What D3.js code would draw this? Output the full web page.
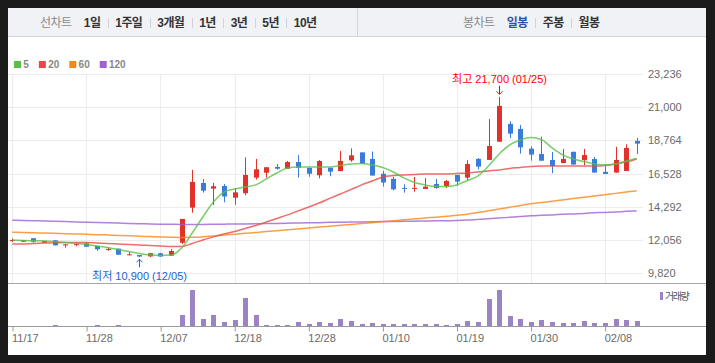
<!DOCTYPE html>
<html>
<head>
<meta charset="utf-8">
<script src="https://cdn.jsdelivr.net/npm/d3@7"></script>
<style>
  html, body { margin: 0; padding: 0; background: #1b1b1b; }
  svg { display: block; font-family: Arial, "Liberation Sans", "Noto Sans CJK KR", sans-serif; }
</style>
</head>
<body>
<svg id="chart" width="715" height="363"></svg>
<script>
// trading days (2017-11-17 .. 2018-02-13)
const dates = ['11/17','11/20','11/21','11/22','11/23','11/24','11/27','11/28','11/29','11/30',
  '12/01','12/04','12/05','12/06','12/07','12/08','12/11','12/12','12/13','12/14',
  '12/15','12/18','12/19','12/20','12/21','12/22','12/26','12/27','12/28','01/02',
  '01/03','01/04','01/05','01/08','01/09','01/10','01/11','01/12','01/15','01/16',
  '01/17','01/18','01/19','01/22','01/23','01/24','01/25','01/26','01/29','01/30',
  '01/31','02/01','02/02','02/05','02/06','02/07','02/08','02/09','02/12','02/13'];

const open = [12040,11950,12180,11880,12040,11700,11760,11840,11660,11440,
  11480,11090,11050,10960,11170,11010,11880,14240,15900,15520,
  15700,14910,15210,16260,16590,16980,16860,17310,16920,16420,
  16930,16700,17420,17960,17520,16520,16180,15570,15540,15500,
  15830,15680,16440,16260,17520,17450,18680,19880,19540,18210,
  17850,17450,17240,18000,17440,17510,16650,16600,16710,18730];
const high = [12170,12050,12180,12000,12060,11770,11880,11900,11660,11570,
  11480,11250,11050,11200,11200,11440,13480,16780,16170,15900,
  15830,15560,17620,17520,16960,17180,17380,17780,16920,17440,
  16930,18060,18230,17960,18020,16720,16320,15810,16300,16230,
  16170,16110,16440,17430,17580,20200,21700,20060,19800,18370,
  19020,17990,18190,18000,18190,17650,17140,18330,18500,18940];
const low = [11930,11950,11880,11880,11700,11550,11640,11610,11340,11340,
  11070,11030,10900,10910,10940,11000,11800,13900,15250,14420,
  14600,14440,15080,16130,16260,16790,16860,16260,16320,16210,
  16350,16700,17330,17180,16400,15660,15400,15250,15310,15500,
  15510,15560,15700,16060,16810,17450,18680,18910,17880,17400,
  17400,16560,17240,17140,17080,16600,16510,16600,16700,17840];
const close = [12060,12050,11950,12000,11700,11770,11780,11610,11440,11460,
  11070,11100,10950,11170,10950,11320,13480,15970,15380,15680,
  14990,15270,16440,16820,16960,16860,17310,16920,16520,17380,
  16660,17390,17760,17180,16400,15930,15470,15530,15570,15650,
  15560,16030,15990,17180,17000,18390,21090,19220,18300,17810,
  17400,17040,17520,17140,17780,16600,16510,17450,18260,18550];

// volume (thousand shares)
const volume = [10,10,10,10,65,10,10,10,65,10,
  65,10,10,10,10,10,565,1815,365,565,
  215,315,1415,565,65,65,65,215,115,215,
  165,365,265,115,165,115,115,115,115,115,
  115,65,115,265,215,1365,1815,515,365,215,
  315,215,165,165,265,165,165,365,315,265];

const ma5 = [12060,12030,12010,12000,11960,11890,11830,11760,11660,11560,
  11420,11290,11150,11050,11020,11050,11520,12530,13610,14620,
  15290,15500,15630,15770,16170,16570,16910,16980,16980,16980,
  16980,17080,17180,17210,17110,16940,16640,16240,15930,15770,
  15660,15660,15770,16070,16370,17040,17850,18460,18790,18960,
  18830,18260,17790,17520,17350,17180,17110,17180,17380,17550];
const ma20 = [11790,11790,11830,11860,11870,11890,11890,11890,11860,11830,
  11790,11760,11730,11690,11660,11630,11630,11830,12060,12270,
  12470,12640,12840,13040,13270,13510,13750,14020,14280,14550,
  14860,15160,15460,15770,16030,16300,16400,16440,16470,16510,
  16510,16510,16540,16570,16640,16710,16780,16880,16940,17010,
  17040,17040,17040,17040,17040,17040,17080,17180,17310,17520];
const ma60 = [12580,12570,12550,12530,12510,12490,12470,12450,12420,12400,
  12370,12350,12320,12290,12270,12240,12230,12240,12280,12330,
  12400,12450,12510,12570,12630,12690,12750,12810,12870,12930,
  12990,13050,13110,13170,13230,13290,13360,13420,13480,13540,
  13600,13660,13720,13800,13910,14030,14150,14260,14390,14500,
  14590,14670,14760,14850,14940,15020,15110,15200,15290,15370];
const ma120 = [13390,13380,13360,13340,13320,13300,13280,13260,13240,13220,
  13200,13180,13160,13140,13130,13120,13110,13110,13110,13120,
  13130,13140,13140,13150,13170,13180,13190,13210,13220,13230,
  13250,13260,13270,13280,13290,13300,13310,13320,13330,13340,
  13350,13360,13370,13400,13450,13500,13540,13590,13640,13690,
  13720,13750,13790,13820,13850,13890,13920,13950,13990,14020];

const priceTicks = [9820, 12056, 14292, 16528, 18764, 21000, 23236];
const dateTicks = ['11/17','11/28','12/07','12/18','12/28','01/10','01/19','01/30','02/08'];
const periodTabs = ['1일','1주일','3개월','1년','3년','5년','10년'];
const candleTabs = ['일봉','주봉','월봉'];
const maLabels = ['5','20','60','120'];

const UP = '#e3302a', DOWN = '#3a7cdc';
const maColors = ['#58c046', '#ea4848', '#f7871b', '#a060d2'];
const fmt = d3.format(',');

const svg = d3.select('#chart');

// panel + header
svg.append('rect').attr('x', 8).attr('y', 8).attr('width', 698).attr('height', 347).attr('fill', '#fff');
svg.append('rect').attr('x', 8).attr('y', 8).attr('width', 698).attr('height', 29).attr('fill', '#f1f2f6');
svg.append('line').attr('x1', 8).attr('x2', 706).attr('y1', 36.5).attr('y2', 36.5).attr('stroke', '#d4d5da');
svg.append('line').attr('x1', 357.5).attr('x2', 357.5).attr('y1', 8).attr('y2', 36).attr('stroke', '#d4d5da');

const tabRow = (startX, title, labels, activeIdx) => {
  const g = svg.append('g').style('font-size', '12px').style('letter-spacing', '-0.6px');
  let cx = startX;
  const t = g.append('text').attr('x', cx).attr('y', 27).attr('fill', '#8a8a8a').text(title);
  cx += t.node().getComputedTextLength() + 12.5;
  labels.forEach((l, i) => {
    if (i > 0) {
      g.append('line').attr('x1', Math.round(cx) + 0.5).attr('x2', Math.round(cx) + 0.5)
        .attr('y1', 18).attr('y2', 28).attr('stroke', '#d2d3d8');
      cx += 7.5;
    }
    const tt = g.append('text').attr('x', cx).attr('y', 27)
      .attr('font-weight', 'bold')
      .attr('fill', i === activeIdx ? '#2a53a8' : '#333')
      .text(l);
    cx += tt.node().getComputedTextLength() + 7.5;
  });
};
tabRow(40, '선차트', periodTabs, -1);
tabRow(463, '봉차트', candleTabs, 0);

// legend
const legend = svg.append('g').style('font-size', '10px').attr('font-weight', 'bold');
let lx = 14;
maLabels.forEach((l, i) => {
  legend.append('rect').attr('x', lx).attr('y', 61).attr('width', 7).attr('height', 7).attr('fill', maColors[i]);
  const t = legend.append('text').attr('x', lx + 9.3).attr('y', 67.8).attr('fill', '#888').text(l);
  lx += 9.3 + t.node().getComputedTextLength() + 10;
});

// scales
const x = d3.scalePoint().domain(dates).range([12.3, 636.7]);
const y = d3.scaleLinear().domain([priceTicks[0], priceTicks[priceTicks.length - 1]]).range([273.3, 74]);
const yVol = d3.scaleLinear().domain([0, d3.max(volume)]).range([326.3, 290]);
const px = d => Math.round(x(d)) + 0.5;

// grid
const grid = svg.append('g').attr('stroke', '#ececec');
grid.selectAll('.h').data(priceTicks).enter().append('line')
  .attr('x1', 8).attr('x2', 643)
  .attr('y1', d => Math.round(y(d)) + 0.5).attr('y2', d => Math.round(y(d)) + 0.5);
grid.selectAll('.v').data(dateTicks).enter().append('line')
  .attr('x1', px).attr('x2', px)
  .attr('y1', 74).attr('y2', 283);

svg.append('line').attr('x1', 8).attr('x2', 706).attr('y1', 283.5).attr('y2', 283.5).attr('stroke', '#a8a8a8');

// price axis
const yAxis = d3.axisRight(y).tickValues(priceTicks).tickSize(0).tickPadding(5).tickFormat(fmt);
const gy = svg.append('g').attr('transform', 'translate(643,0)').call(yAxis);
gy.select('.domain').remove();
gy.selectAll('text').attr('fill', '#6a6a6a').style('font-size', '11px').style('font-family', null);

// candles
const idx = d3.range(dates.length);
const candles = svg.append('g');
candles.selectAll('.wick').data(idx).enter().append('line')
  .attr('x1', i => px(dates[i])).attr('x2', i => px(dates[i]))
  .attr('y1', i => y(high[i])).attr('y2', i => y(low[i]))
  .attr('stroke', i => close[i] >= open[i] ? UP : DOWN);
candles.selectAll('.body').data(idx).enter().append('rect')
  .attr('x', i => Math.round(x(dates[i])) - 2)
  .attr('width', 5)
  .attr('y', i => y(Math.max(open[i], close[i])))
  .attr('height', i => Math.max(1, Math.abs(y(open[i]) - y(close[i]))))
  .attr('fill', i => close[i] >= open[i] ? UP : DOWN);

// moving averages
const maLine = d3.line().x((d, i) => x(dates[i])).y(d => y(d)).curve(d3.curveMonotoneX);
[ma120, ma60, ma20, ma5].forEach((s, k) => {
  svg.append('path').attr('d', maLine(s))
    .attr('fill', 'none')
    .attr('stroke', maColors[3 - k])
    .attr('stroke-width', 1.5)
    .attr('stroke-opacity', 0.8);
});

// high / low marks
const hiIdx = d3.maxIndex(high), loIdx = d3.minIndex(low);
const hx = px(dates[hiIdx]), hy = y(high[hiIdx]);
svg.append('text').attr('x', hx).attr('y', hy - 13.5).attr('text-anchor', 'middle')
  .attr('fill', '#f00').style('font-size', '11px')
  .text(`최고 ${fmt(high[hiIdx])} (${dates[hiIdx]})`);
svg.append('path').attr('d', `M${hx},${hy - 11}V${hy - 2.5}M${hx - 3},${hy - 5.5}L${hx},${hy - 2.5}L${hx + 3},${hy - 5.5}`)
  .attr('fill', 'none').attr('stroke', '#f00');
const lxp = px(dates[loIdx]), ly = y(low[loIdx]);
svg.append('text').attr('x', lxp).attr('y', ly + 23).attr('text-anchor', 'middle')
  .attr('fill', '#1c63d5').style('font-size', '11px')
  .text(`최저 ${fmt(low[loIdx])} (${dates[loIdx]})`);
svg.append('path').attr('d', `M${lxp},${ly + 2}V${ly + 10}M${lxp - 3},${ly + 5}L${lxp},${ly + 2}L${lxp + 3},${ly + 5}`)
  .attr('fill', 'none').attr('stroke', '#1c63d5');

// volume
svg.append('g').selectAll('rect').data(idx).enter().append('rect')
  .attr('x', i => Math.round(x(dates[i])) - 2)
  .attr('width', 5)
  .attr('y', i => yVol(volume[i]))
  .attr('height', i => yVol(0) - yVol(volume[i]))
  .attr('fill', '#9b84c5');

svg.append('rect').attr('x', 660).attr('y', 292).attr('width', 3).attr('height', 8).attr('fill', '#9b84c5');
svg.append('text').attr('x', 665).attr('y', 300).attr('fill', '#555')
  .style('font-size', '10px').style('letter-spacing', '-1.5px').text('거래량');

// date axis
const xAxis = d3.axisBottom(x).tickValues(dateTicks).tickSize(5).tickPadding(3);
const gx = svg.append('g').attr('transform', 'translate(0.2,326.5)').call(xAxis);
gx.select('.domain').remove();
gx.selectAll('.tick line').attr('stroke', '#999');
gx.selectAll('text').attr('text-anchor', 'start').attr('dx', -1)
  .attr('fill', '#6a6a6a').style('font-size', '11px').style('font-family', null);
svg.append('line').attr('x1', 8).attr('x2', 706).attr('y1', 326.5).attr('y2', 326.5).attr('stroke', '#9a9a9a');
</script>
</body>
</html>
